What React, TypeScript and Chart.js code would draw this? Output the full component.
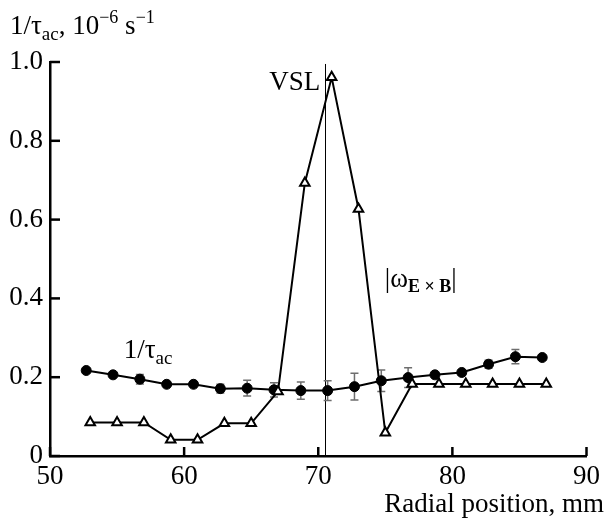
import React, { useEffect, useRef } from "react";
import { Chart, registerables } from "chart.js";

Chart.register(...registerables);

// ---- data ----
const tauPositions = [52.7, 54.7, 56.7, 58.7, 60.7, 62.7, 64.7, 66.7, 68.7, 70.7, 72.7, 74.7, 76.7, 78.7, 80.7, 82.7, 84.7, 86.7];
const tauValues = [0.217, 0.206, 0.195, 0.182, 0.182, 0.171, 0.172, 0.168, 0.166, 0.166, 0.176, 0.191, 0.199, 0.206, 0.212, 0.233, 0.252, 0.25];
const tauErrors = [0.004, 0.004, 0.012, 0.004, 0.004, 0.011, 0.02, 0.018, 0.022, 0.025, 0.034, 0.027, 0.025, 0.004, 0.005, 0.01, 0.018, 0.006];

const omegaPositions = [53, 55, 57, 59, 61, 63, 65, 67, 69, 71, 73, 75, 77, 79, 81, 83, 85, 87];
const omegaValues = [0.085, 0.085, 0.085, 0.041, 0.041, 0.083, 0.083, 0.164, 0.693, 0.961, 0.627, 0.059, 0.183, 0.183, 0.183, 0.183, 0.183, 0.183];

const xTickValues = [50, 60, 70, 80, 90];
const yTickValues = [0, 0.2, 0.4, 0.6, 0.8, 1.0];
const vslPosition = 70.5;

const FONT = '"Liberation Serif", "Times New Roman", serif';

type Part = { t: string; size: number; dy?: number; bold?: boolean };

function drawRich(ctx: CanvasRenderingContext2D, x: number, y: number, parts: Part[], align: "left" | "right" = "left") {
  ctx.save();
  ctx.fillStyle = "#000";
  ctx.textBaseline = "alphabetic";
  ctx.textAlign = "left";
  let total = 0;
  const widths = parts.map((p) => {
    ctx.font = `${p.bold ? "bold " : ""}${p.size}px ${FONT}`;
    const w = ctx.measureText(p.t).width;
    total += w;
    return w;
  });
  let cx = align === "right" ? x - total : x;
  parts.forEach((p, i) => {
    ctx.font = `${p.bold ? "bold " : ""}${p.size}px ${FONT}`;
    ctx.fillText(p.t, cx, y + (p.dy || 0));
    cx += widths[i];
  });
  ctx.restore();
}

const decorPlugin = {
  id: "decor",
  beforeDatasetsDraw(chart: any) {
    const ctx = chart.ctx as CanvasRenderingContext2D;
    const xs = chart.scales.x;
    const ys = chart.scales.y;
    // VSL line
    ctx.save();
    ctx.strokeStyle = "#000";
    ctx.lineWidth = 1;
    const vx = Math.round(xs.getPixelForValue(vslPosition)) + 0.5;
    ctx.beginPath();
    ctx.moveTo(vx, ys.getPixelForValue(0.995));
    ctx.lineTo(vx, ys.getPixelForValue(0));
    ctx.stroke();
    // error bars
    ctx.strokeStyle = "#6e6e6e";
    ctx.lineWidth = 1.5;
    tauPositions.forEach((xv, i) => {
      const e = tauErrors[i];
      const px = xs.getPixelForValue(xv);
      const top = ys.getPixelForValue(tauValues[i] + e);
      const bot = ys.getPixelForValue(tauValues[i] - e);
      ctx.beginPath();
      ctx.moveTo(px, top);
      ctx.lineTo(px, bot);
      ctx.moveTo(px - 4, top);
      ctx.lineTo(px + 4, top);
      ctx.moveTo(px - 4, bot);
      ctx.lineTo(px + 4, bot);
      ctx.stroke();
    });
    ctx.restore();
  },
  afterDraw(chart: any) {
    const ctx = chart.ctx as CanvasRenderingContext2D;
    const xs = chart.scales.x;
    const ys = chart.scales.y;
    const area = chart.chartArea;
    // inward ticks
    ctx.save();
    ctx.strokeStyle = "#000";
    ctx.lineWidth = 2.5;
    xTickValues.forEach((v) => {
      const px = xs.getPixelForValue(v);
      ctx.beginPath();
      ctx.moveTo(px, area.bottom);
      ctx.lineTo(px, area.bottom - 9);
      ctx.stroke();
    });
    yTickValues.forEach((v) => {
      const py = ys.getPixelForValue(v);
      ctx.beginPath();
      ctx.moveTo(area.left, py);
      ctx.lineTo(area.left + 10, py);
      ctx.stroke();
    });
    ctx.restore();

    // labels
    drawRich(ctx, 10, 34, [
      { t: "1/τ", size: 27 },
      { t: "ac", size: 19, dy: 6 },
      { t: ", 10", size: 27 },
      { t: "−6", size: 18, dy: -11 },
      { t: " s", size: 27 },
      { t: "−1", size: 18, dy: -11 },
    ]);
    drawRich(ctx, 604, 512, [{ t: "Radial position, mm", size: 27 }], "right");
    drawRich(ctx, xs.getPixelForValue(70.15), ys.getPixelForValue(0.928), [{ t: "VSL", size: 27 }], "right");
    drawRich(ctx, xs.getPixelForValue(55.5), ys.getPixelForValue(0.249), [
      { t: "1/τ", size: 27 },
      { t: "ac", size: 19, dy: 6 },
    ]);
    drawRich(ctx, xs.getPixelForValue(74.96), ys.getPixelForValue(0.43), [
      { t: "|ω", size: 27 },
      { t: "E × B", size: 18, dy: 5, bold: true },
      { t: "|", size: 27 },
    ]);
  },
};

export default function App() {
  const ref = useRef<HTMLCanvasElement | null>(null);
  useEffect(() => {
    if (!ref.current) return;
    const chart = new Chart(ref.current, {
      type: "line",
      data: {
        datasets: [
          {
            label: "|ωE×B|",
            data: omegaPositions.map((x, i) => ({ x, y: omegaValues[i] })),
            borderColor: "#000",
            borderWidth: 2,
            pointStyle: "triangle",
            pointRadius: 5.5,
            pointBorderWidth: 2,
            pointBackgroundColor: "#fff",
            pointBorderColor: "#000",
            tension: 0,
          },
          {
            label: "1/τac",
            data: tauPositions.map((x, i) => ({ x, y: tauValues[i] })),
            borderColor: "#000",
            borderWidth: 2,
            pointStyle: "circle",
            pointRadius: 5,
            pointBorderWidth: 1,
            pointBackgroundColor: "#000",
            pointBorderColor: "#000",
            tension: 0,
          },
        ],
      },
      options: {
        animation: false,
        responsive: false,
        maintainAspectRatio: false,
        layout: { padding: { left: 0, right: 14, top: 62, bottom: 0 } },
        plugins: { legend: { display: false }, tooltip: { enabled: false }, title: { display: false } },
        scales: {
          x: {
            type: "linear",
            min: 50,
            max: 90,
            afterBuildTicks: (s: any) => {
              s.ticks = xTickValues.map((v) => ({ value: v }));
            },
            afterFit: (s: any) => {
              s.height = 63;
            },
            grid: { display: false, drawTicks: false },
            border: { display: true, color: "#000", width: 2.5 },
            ticks: {
              color: "#000",
              font: { family: FONT, size: 27 },
              padding: 5,
              maxRotation: 0,
              callback: (v: any) => String(v),
            },
          },
          y: {
            type: "linear",
            min: 0,
            max: 1,
            afterBuildTicks: (s: any) => {
              s.ticks = yTickValues.map((v) => ({ value: v }));
            },
            afterFit: (s: any) => {
              s.width = 50;
            },
            grid: { display: false, drawTicks: false },
            border: { display: true, color: "#000", width: 2.5 },
            ticks: {
              color: "#000",
              font: { family: FONT, size: 27 },
              padding: 7,
              callback: (v: any) => (v === 0 ? "0" : Number(v).toFixed(1)),
            },
          },
        },
      },
      plugins: [decorPlugin],
    });
    return () => chart.destroy();
  }, []);
  return (
    <div style={{ position: "absolute", left: 0, top: 0, width: 605, height: 519, background: "#fff" }}>
      <canvas ref={ref} width={605} height={519} style={{ width: 605, height: 519, display: "block" }} />
    </div>
  );
}
